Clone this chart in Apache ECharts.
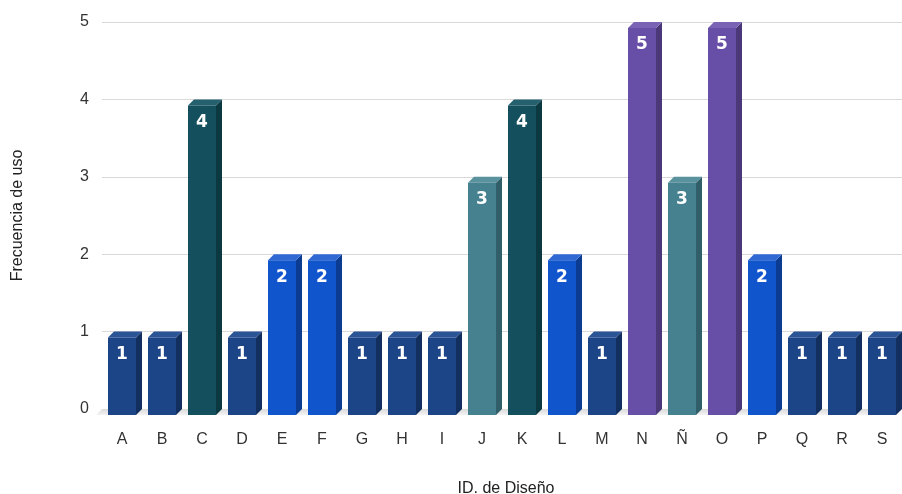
<!DOCTYPE html>
<html>
<head>
<meta charset="utf-8">
<script src="https://cdn.jsdelivr.net/npm/echarts@6/dist/echarts.min.js"></script>
<style>
  html, body { margin: 0; padding: 0; background: #fff; }
  #chart { width: 902px; height: 494px; }
</style>
</head>
<body>
<div id="chart"></div>
<script>
// Design IDs and how often each one is used
const categories = ['A', 'B', 'C', 'D', 'E', 'F', 'G', 'H', 'I', 'J', 'K', 'L', 'M', 'N', 'Ñ', 'O', 'P', 'Q', 'R', 'S'];
const usage = [1, 1, 4, 1, 2, 2, 1, 1, 1, 3, 4, 2, 1, 5, 3, 5, 2, 1, 1, 1];
const yTicks = [0, 1, 2, 3, 4, 5];

// Bar palette keyed by frequency: front, side and top faces
const palette = {
  1: { front: '#1c4587', side: '#132f5f', top: '#2b5497' },
  2: { front: '#1155cc', side: '#0b3c92', top: '#3069d3' },
  3: { front: '#45818e', side: '#315f69', top: '#5a929e' },
  4: { front: '#134f5c', side: '#0c3841', top: '#24606d' },
  5: { front: '#674ea7', side: '#4a3879', top: '#7a63b5' }
};

const DEPTH_X = 6;   // 3D extrusion to the right
const DEPTH_Y = 6;   // 3D extrusion upward
const BAR_RATIO = 0.7;

const chart = echarts.init(document.getElementById('chart'), null, { renderer: 'canvas' });

function renderBar(params, api) {
  const idx = api.value(0);
  const val = api.value(1);
  const topBack = api.coord([idx, val]);
  const baseBack = api.coord([idx, 0]);
  const band = api.size([1, 0])[0];
  const w = band * BAR_RATIO;
  const cx = topBack[0];
  const x0 = cx - w / 2, x1 = cx + w / 2;
  const yTop = topBack[1] + DEPTH_Y;
  const yBot = baseBack[1] + DEPTH_Y;
  const c = palette[val] || palette[1];
  return {
    type: 'group',
    children: [
      { type: 'polygon', shape: { points: [[x1, yTop], [x1 + DEPTH_X, yTop - DEPTH_Y], [x1 + DEPTH_X, yBot - DEPTH_Y], [x1, yBot]] },
        style: { fill: c.side } },
      { type: 'polygon', shape: { points: [[x0, yTop], [x0 + DEPTH_X, yTop - DEPTH_Y], [x1 + DEPTH_X, yTop - DEPTH_Y], [x1, yTop]] },
        style: { fill: c.top } },
      { type: 'rect', shape: { x: x0, y: yTop, width: w, height: yBot - yTop },
        style: { fill: c.front } },
      { type: 'text', x: cx, y: yTop + 17,
        style: { text: String(val), fill: '#ffffff', font: 'bold 17px "DejaVu Sans"', align: 'center', verticalAlign: 'middle' } }
    ]
  };
}

function renderFloor(params, api) {
  const cs = params.coordSys;
  const yb = cs.y + cs.height;
  return {
    type: 'polygon',
    shape: { points: [[cs.x, yb], [cs.x + cs.width, yb], [cs.x + cs.width - DEPTH_X, yb + DEPTH_Y], [cs.x - DEPTH_X, yb + DEPTH_Y]] },
    style: {
      fill: new echarts.graphic.LinearGradient(0, 0, 0, 1, [
        { offset: 0, color: '#dcdcdc' },
        { offset: 1, color: '#f2f2f2' }
      ])
    },
    silent: true
  };
}

chart.setOption({
  animation: false,
  backgroundColor: '#ffffff',
  grid: { left: 102, right: 0, top: 22, bottom: 85, outerBoundsMode: 'none', containLabel: false },
  xAxis: {
    type: 'category',
    data: categories,
    name: 'ID. de Diseño',
    nameLocation: 'middle',
    nameGap: 72,
    nameTextStyle: { fontFamily: 'Liberation Sans', fontSize: 16, color: '#222', padding: [0, 0, 0, 8] },
    axisLine: { show: false },
    axisTick: { show: false },
    axisLabel: { fontFamily: 'Liberation Sans', fontSize: 16, color: '#333', margin: 23 }
  },
  yAxis: {
    type: 'value',
    min: yTicks[0],
    max: yTicks[yTicks.length - 1],
    interval: 1,
    name: 'Frecuencia de uso',
    nameLocation: 'middle',
    nameGap: 76,
    nameTextStyle: { fontFamily: 'Liberation Sans', fontSize: 16, color: '#222' },
    axisLine: { show: false },
    axisTick: { show: false },
    axisLabel: { fontFamily: 'Liberation Sans', fontSize: 16, color: '#333', margin: 13 },
    splitLine: { lineStyle: { color: '#d9d9d9', width: 1 } }
  },
  series: [
    {
      type: 'custom',
      renderItem: renderFloor,
      data: [[0, 0]],
      z: 1,
      silent: true
    },
    {
      type: 'custom',
      renderItem: renderBar,
      data: usage.map((v, i) => [i, v]),
      encode: { x: 0, y: 1 },
      z: 2
    }
  ]
});
</script>
</body>
</html>
